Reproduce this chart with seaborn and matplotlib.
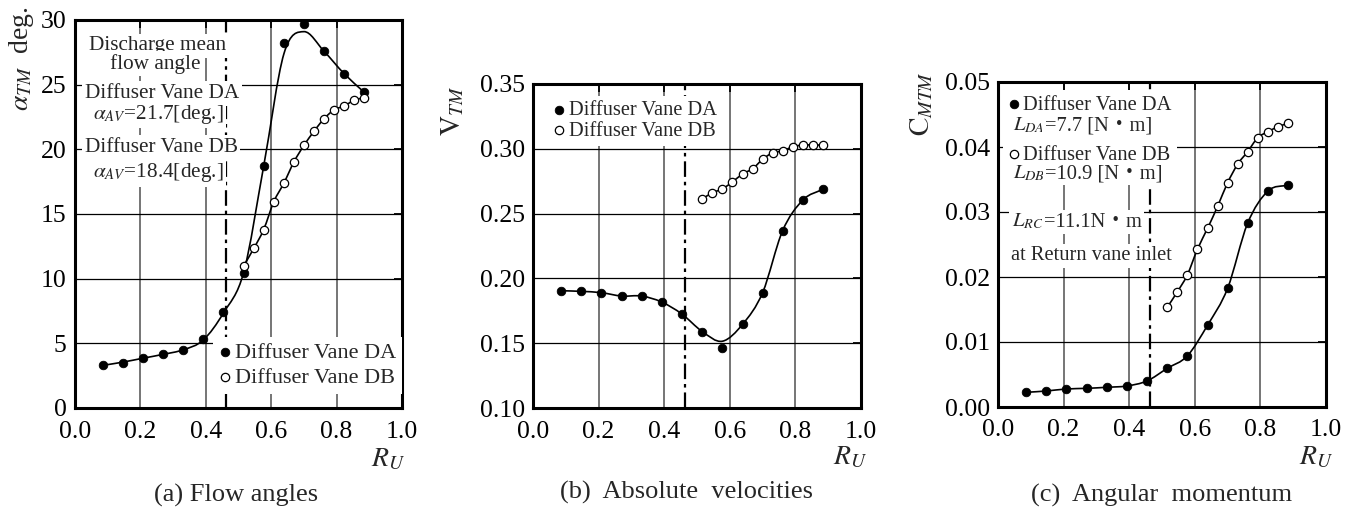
"""Diffuser vane comparison: flow angle, absolute velocity, angular momentum."""
import matplotlib

matplotlib.use("Agg")
import matplotlib.pyplot as plt
import numpy as np
import seaborn as sns
from matplotlib.patches import PathPatch
from matplotlib.path import Path
from matplotlib.ticker import FormatStrFormatter, MultipleLocator

# ── data ────────────────────────────────────────────────────────────
R_DA = [0.086, 0.147, 0.208, 0.270, 0.331, 0.392, 0.454, 0.516, 0.577,
        0.639, 0.700, 0.761, 0.823, 0.885]
R_DB = [0.516, 0.547, 0.577, 0.608, 0.639, 0.670, 0.700, 0.731, 0.761,
        0.792, 0.823, 0.854, 0.885]

ANGLE_DA = [3.3, 3.5, 3.9, 4.15, 4.5, 5.3, 7.4, 10.4, 18.7, 28.2, 29.7,
            27.6, 25.8, 24.4]
ANGLE_DA_FIT = [3.3, 3.55, 3.85, 4.15, 4.5, 5.25, 7.35, 10.5, 18.7, 27.4,
                29.1, 27.6, 25.85, 24.4]
ANGLE_DB = [11.0, 12.35, 13.8, 15.95, 17.4, 19.05, 20.3, 21.4, 22.35,
            23.05, 23.35, 23.8, 24.0]

VEL_DA = [0.1905, 0.190, 0.189, 0.1864, 0.1864, 0.1818, 0.1725, 0.159,
          0.1466, 0.1646, 0.189, 0.2368, 0.2605, 0.269]
VEL_DA_FIT = [0.1905, 0.190, 0.189, 0.1864, 0.1864, 0.1818, 0.1725, 0.159,
              0.1515, 0.1646, 0.189, 0.2368, 0.2605, 0.269]
VEL_DB = [0.2613, 0.2661, 0.269, 0.2744, 0.2806, 0.2847, 0.2919, 0.297,
          0.2983, 0.3016, 0.3029, 0.3029, 0.3029]

MOM_DA = [0.00226, 0.00246, 0.00277, 0.00287, 0.00303, 0.00323, 0.0040,
          0.00595, 0.00785, 0.0126, 0.01826, 0.02826, 0.03323, 0.03415]
MOM_DB = [0.01534, 0.01774, 0.0203, 0.02426, 0.0275, 0.03092, 0.0345,
          0.03738, 0.03928, 0.04143, 0.04235, 0.04312, 0.04365]

DISCHARGE_R = 0.462  # diffuser discharge position (dash-dot line)
X_TICKS = [0.0, 0.2, 0.4, 0.6, 0.8, 1.0]

SERIF = "Liberation Serif"
FAMILY = [SERIF, "Noto Sans CJK JP"]

sns.set_theme(style="white")
plt.rcParams["font.family"] = FAMILY
plt.rcParams["mathtext.fontset"] = "stix"

fig = plt.figure(figsize=(13.58, 5.08), dpi=100)
ax_a = fig.add_axes([75 / 1358, 1 - 408 / 508, 327 / 1358, 388 / 508])
ax_b = fig.add_axes([533 / 1358, 1 - 408 / 508, 328 / 1358, 324 / 508])
ax_c = fig.add_axes([998 / 1358, 1 - 407 / 508, 328 / 1358, 325 / 508])
WHITE = dict(boxstyle="square,pad=0.12", fc="white", ec="none")


def smooth_curve(ax, x, y):
    """Catmull-Rom curve through the points, drawn as Bezier segments."""
    x = np.asarray(x, float)
    y = np.asarray(y, float)
    tx, ty = np.gradient(x), np.gradient(y)
    verts = [(x[0], y[0])]
    for i in range(len(x) - 1):
        verts += [(x[i] + tx[i] / 3, y[i] + ty[i] / 3),
                  (x[i + 1] - tx[i + 1] / 3, y[i + 1] - ty[i + 1] / 3),
                  (x[i + 1], y[i + 1])]
    codes = [Path.MOVETO] + [Path.CURVE4] * (len(verts) - 1)
    ax.add_patch(PathPatch(Path(verts, codes), fc="none", ec="black",
                           lw=1.2, zorder=3))


def style_axes(ax, ylim, ystep, yfmt):
    ax.set_xlim(0, 1)
    ax.set_ylim(*ylim)
    ax.set_xticks(X_TICKS)
    ax.xaxis.set_major_formatter(FormatStrFormatter("%.1f"))
    ax.yaxis.set_major_locator(MultipleLocator(ystep))
    ax.yaxis.set_major_formatter(FormatStrFormatter(yfmt))
    ax.set_axisbelow(True)
    ax.xaxis.grid(True, color="#6a6a6a", lw=1.3)
    ax.yaxis.grid(True, color="black", lw=0.9)
    ax.tick_params(direction="in", length=6, width=1.3, labelsize=18.5,
                   pad=6, top=True, right=True, colors="black")
    ax.tick_params(axis="x", pad=9)
    for sp in ax.spines.values():
        sp.set_color("black")
        sp.set_linewidth(2.2)
    ax.set_xlabel("")
    ax.set_ylabel("")
    ax.axvline(DISCHARGE_R, color="black", lw=1.6,
               ls=(0, (7, 2.2, 1.6, 2.2)), zorder=1)


def draw_series(ax, y_da, y_db, fit_da=None):
    smooth_curve(ax, R_DA, fit_da if fit_da is not None else y_da)
    smooth_curve(ax, R_DB, y_db)
    sns.scatterplot(x=R_DA, y=y_da, ax=ax, color="black", edgecolor="black",
                    s=38, linewidth=0.6, zorder=4, label="Diffuser Vane DA")
    sns.scatterplot(x=R_DB, y=y_db, ax=ax, color="white", edgecolor="black",
                    s=36, linewidth=0.9, zorder=4, label="Diffuser Vane DB")


def put_text(ax, x, y, s, size=15.3, **kw):
    return ax.text(x, y, s, transform=ax.transAxes, fontsize=size,
                   va="baseline", bbox=WHITE, zorder=6, **kw)


def put_pair(ax, x, y, math, plain, size=14.8):
    """Math part then plain part (with the CJK middle dot) on one baseline."""
    t1 = put_text(ax, x, y, math, size)
    bb = t1.get_window_extent(fig.canvas.get_renderer())
    x2 = ax.transAxes.inverted().transform((bb.x1, bb.y0))[0]
    put_text(ax, x2, y, plain, size, family=FAMILY)


def legend(ax, anchor, size, spacing):
    ax.legend(loc="upper left", bbox_to_anchor=anchor, fontsize=size,
              frameon=True, facecolor="white", edgecolor="none",
              framealpha=1, fancybox=False, handlelength=0.6,
              handletextpad=0.15, labelspacing=spacing, borderpad=0.25,
              borderaxespad=0)


# ── (a) flow angles ─────────────────────────────────────────────────
style_axes(ax_a, (0, 30), 5, "%d")
draw_series(ax_a, ANGLE_DA, ANGLE_DB, ANGLE_DA_FIT)
legend(ax_a, (0.422, 0.183), 16, 0.2)
put_text(ax_a, 0.251, 0.922, "Discharge mean", ha="center")
put_text(ax_a, 0.246, 0.8745, "flow angle", ha="center")
put_text(ax_a, 0.030, 0.799, "Diffuser Vane DA")
put_text(ax_a, 0.055, 0.7456, r"$\alpha_{AV}$=21.7[deg.]")
put_text(ax_a, 0.030, 0.660, "Diffuser Vane DB")
put_text(ax_a, 0.055, 0.595, r"$\alpha_{AV}$=18.4[deg.]")
ax_a.text(-0.165, 0.90, r"$\alpha_{TM}$  deg.", transform=ax_a.transAxes,
          rotation=90, ha="center", va="center", fontsize=20)
ax_a.text(0.957, -0.134, r"$R_U$", transform=ax_a.transAxes,
          ha="center", va="center", fontsize=20)

# ── (b) absolute velocities ─────────────────────────────────────────
style_axes(ax_b, (0.10, 0.35), 0.05, "%.2f")
draw_series(ax_b, VEL_DA, VEL_DB, VEL_DA_FIT)
legend(ax_b, (0.046, 0.963), 14.7, 0.05)
ax_b.text(-0.244, 0.917, r"$\mathrm{V}_{TM}$", transform=ax_b.transAxes,
          rotation=90, ha="center", va="center", fontsize=20)
ax_b.text(0.966, -0.154, r"$R_U$", transform=ax_b.transAxes,
          ha="center", va="center", fontsize=20)

# ── (c) angular momentum ────────────────────────────────────────────
style_axes(ax_c, (0.0, 0.05), 0.01, "%.2f")
draw_series(ax_c, MOM_DA, MOM_DB)
legend(ax_c, (0.015, 0.975), 14.8, 1.5)
put_pair(ax_c, 0.045, 0.852, r"$L_{DA}$", "=7.7 [N・m]")
put_pair(ax_c, 0.046, 0.7046, r"$L_{DB}$", "=10.9 [N・m]")
put_pair(ax_c, 0.042, 0.5548, r"$L_{RC}$", "=11.1N・m")
put_text(ax_c, 0.039, 0.452, "at Return vane inlet", size=14.8)
ax_c.text(-0.232, 0.935, r"$\mathrm{C}_{MTM}$", transform=ax_c.transAxes,
          rotation=90, ha="center", va="center", fontsize=20)
ax_c.text(0.97, -0.157, r"$R_U$", transform=ax_c.transAxes,
          ha="center", va="center", fontsize=20)

# ── captions ────────────────────────────────────────────────────────
fig.text(236 / 1358, 1 - 495 / 508, "(a) Flow angles", ha="center",
         va="center", fontsize=19)
fig.text(687 / 1358, 1 - 492 / 508, "(b)  Absolute  velocities",
         ha="center", va="center", fontsize=19)
fig.text(1162 / 1358, 1 - 495 / 508, "(c)  Angular  momentum",
         ha="center", va="center", fontsize=19)

fig.savefig("out.png", dpi=100, facecolor="white")
